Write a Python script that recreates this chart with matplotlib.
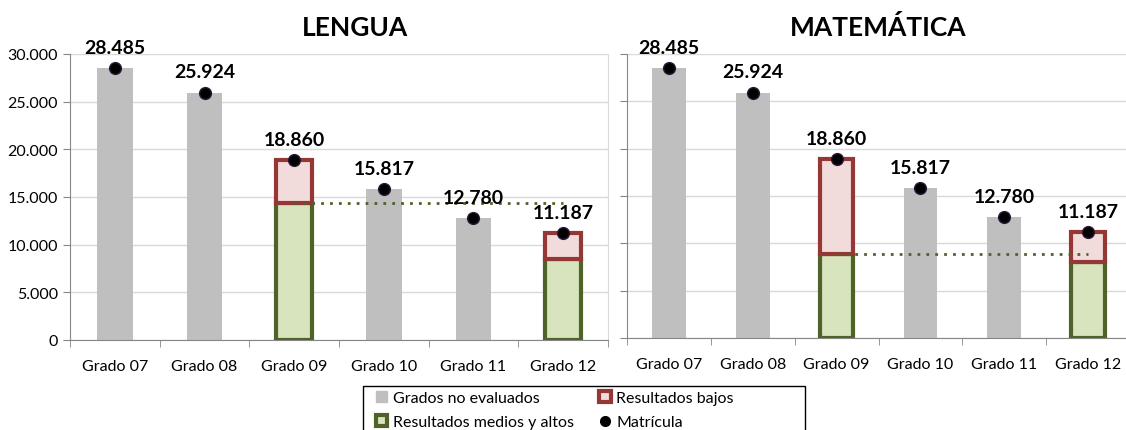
import matplotlib.pyplot as plt
from matplotlib.patches import Patch, Rectangle
from matplotlib.lines import Line2D
import numpy as np

plt.rcParams['font.family'] = ['Lato', 'DejaVu Sans']

grados = ["Grado 07", "Grado 08", "Grado 09", "Grado 10", "Grado 11", "Grado 12"]
matricula = [28485, 25924, 18860, 15817, 12780, 11187]
evaluados = [False, False, True, False, False, True]

# medios y altos (green part) for evaluated grades
lengua_medios = [0, 0, 14350, 0, 0, 8450]
mate_medios = [0, 0, 8850, 0, 0, 8050]

titulos = ["LENGUA", "MATEMÁTICA"]
medios_all = [lengua_medios, mate_medios]

gris = "#BFBFBF"
rojo_borde = "#953735"
rojo_fill = "#F2DCDB"
verde_borde = "#4F6228"
verde_fill = "#D7E4BD"
grid_c = "#D9D9D9"
eje_c = "#868686"

fig = plt.figure(figsize=(11.26, 4.31), dpi=100)
ax1 = fig.add_axes([70/1126, 1-341/431, 538/1126, (341-55)/431])
ax2 = fig.add_axes([627/1126, 1-339/431, 503/1126, (339-55)/431])

x = np.arange(len(grados))
for k, ax in enumerate([ax1, ax2]):
    medios = medios_all[k]
    for i in range(len(grados)):
        if evaluados[i]:
            ax.bar(x[i], matricula[i] - medios[i], bottom=medios[i], width=0.4,
                   color=rojo_fill, edgecolor=rojo_borde, linewidth=3, zorder=3)
            ax.bar(x[i], medios[i], width=0.4, color=verde_fill,
                   edgecolor=verde_borde, linewidth=3, zorder=2)
        else:
            ax.bar(x[i], matricula[i], width=0.4, color=gris, zorder=2)
    # dotted reference line at the Grado 09 level
    ax.plot([x[2], x[5]], [medios[2], medios[2]], linestyle=(0, (1, 2.2)),
            color=verde_borde, linewidth=2, zorder=4)
    ax.plot(x, matricula, 'o', color='black', markersize=8.5,
            markeredgecolor='#2a1a3a', zorder=5)
    for i in range(len(grados)):
        ax.annotate(f"{matricula[i]:,}".replace(",", "."), (x[i], matricula[i]),
                    xytext=(0, 9), textcoords='offset points', ha='center',
                    va='bottom', fontsize=14, fontweight='bold', zorder=6)

    ax.set_xlim(-0.5, 5.5)
    ax.set_ylim(0, 30000)
    ax.set_yticks(np.arange(0, 30001, 5000))
    ax.yaxis.grid(True, color=grid_c, linewidth=1)
    ax.set_axisbelow(True)
    ax.set_xticks(x)
    ax.set_xticklabels(grados, fontsize=11.5)
    ax.set_xticks(np.arange(-0.5, 6, 1), minor=True)
    ax.tick_params(axis='x', which='major', length=0, pad=14)
    ax.tick_params(axis='x', which='minor', length=5, color=eje_c, direction='out')
    ax.tick_params(axis='y', length=5, color=eje_c, labelsize=11.5)
    for s in ['left', 'bottom']:
        ax.spines[s].set_color(eje_c)
    ax.spines['top'].set_visible(False)
    ax.spines['right'].set_color(grid_c)

ax1.yaxis.set_major_formatter(plt.FuncFormatter(lambda v, p: f"{int(v):,}".replace(",", ".")))
ax2.set_yticklabels([])
ax1.set_title(titulos[0], fontsize=19, fontweight='bold', pad=14, x=0.53)
ax2.set_title(titulos[1], fontsize=19, fontweight='bold', pad=14, x=0.5)

handles = [
    Patch(facecolor=gris, edgecolor=gris, label="Grados no evaluados"),
    Patch(facecolor=verde_fill, edgecolor=verde_borde, linewidth=3, label="Resultados medios y altos"),
    Patch(facecolor=rojo_fill, edgecolor=rojo_borde, linewidth=3, label="Resultados bajos"),
    Line2D([], [], marker='o', color='black', linestyle='none', markersize=7, label="Matrícula"),
]
leg = fig.legend(handles=handles, loc='upper left', bbox_to_anchor=(376/1126, 1-392/431),
                 ncol=2, fontsize=11.5, frameon=False, handlelength=0.7,
                 handleheight=0.7, handletextpad=0.35, columnspacing=1.6,
                 borderpad=0, labelspacing=0.62, borderaxespad=0)
# legend box like the Excel one, wider than its entries
fig.patches.append(Rectangle((363/1126, -0.05), (805-363)/1126, 0.05+1-387/431,
                             transform=fig.transFigure, fill=False,
                             edgecolor='black', linewidth=1))

fig.savefig("out.png", dpi=100)
